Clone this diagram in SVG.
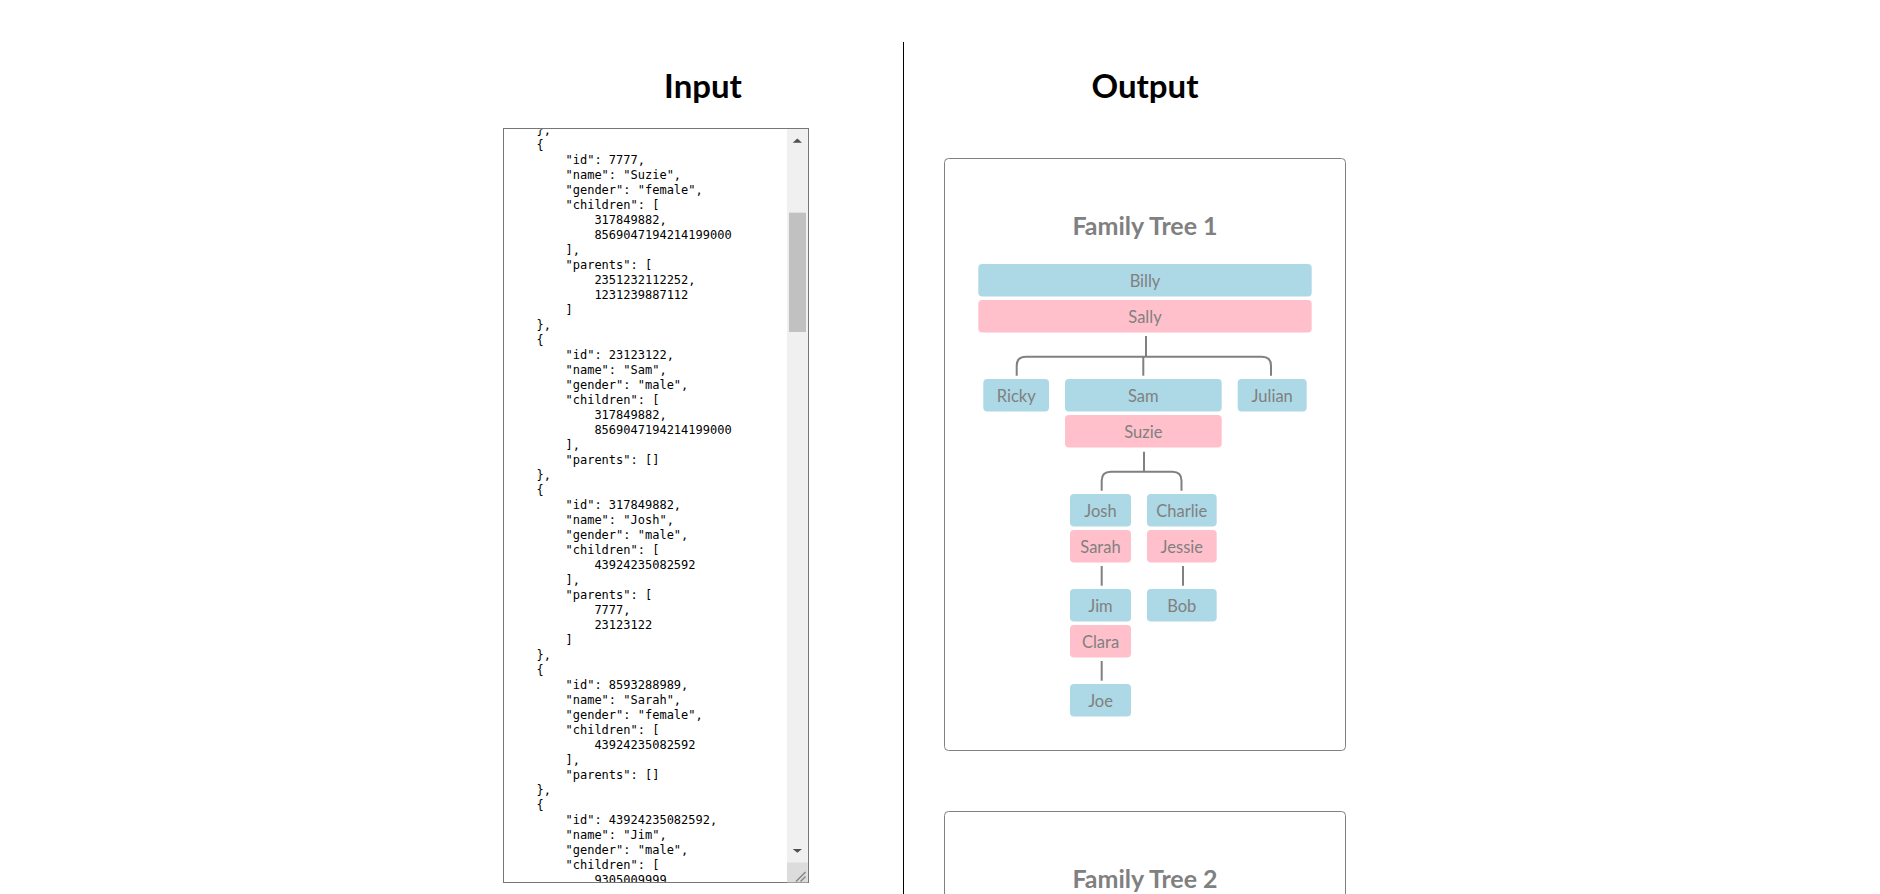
<svg xmlns="http://www.w3.org/2000/svg" width="1880" height="894" viewBox="0 0 1880 894">
<style>
.h{font-family:Lato,"Liberation Sans",sans-serif;font-weight:700;font-size:33px;fill:#000;text-anchor:middle}
.tt{font-family:Lato,"Liberation Sans",sans-serif;font-weight:700;font-size:25px;fill:#808080;text-anchor:middle}
.code{font-family:"DejaVu Sans Mono","Liberation Mono",monospace;font-size:12px;fill:#000}
.m{fill:#ADD8E6}
.f{fill:#FFC0CB}
.lb{font-family:Lato,"Liberation Sans",sans-serif;font-size:16.5px;fill:#808080;text-anchor:middle}
.cn{fill:none;stroke:#808080;stroke-width:2}
.panel{fill:#fff;stroke:#808080;stroke-width:1}
</style>
<defs>
<clipPath id="taClip"><rect x="504" y="129.5" width="283" height="752.5"/></clipPath>
</defs>
<rect width="1880" height="894" fill="#fff"/>

<g id="headings">
<text class="h" x="703" y="98.3">Input</text>
<text class="h" x="1145" y="98.3">Output</text>
</g>

<line id="divider" x1="903.5" y1="42" x2="903.5" y2="894" stroke="#000" stroke-width="1"/>

<g id="textarea">
<rect x="503.5" y="128.5" width="305" height="754" fill="#fff" stroke="#767676" stroke-width="1"/>
<g class="code" clip-path="url(#taClip)">
<text x="536.6" y="133.8">},</text>
<text x="536.6" y="148.8">{</text>
<text x="565.5" y="163.8">"id": 7777,</text>
<text x="565.5" y="178.8">"name": "Suzie",</text>
<text x="565.5" y="193.8">"gender": "female",</text>
<text x="565.5" y="208.8">"children": [</text>
<text x="594.4" y="223.8">317849882,</text>
<text x="594.4" y="238.8">8569047194214199000</text>
<text x="565.5" y="253.8">],</text>
<text x="565.5" y="268.8">"parents": [</text>
<text x="594.4" y="283.8">2351232112252,</text>
<text x="594.4" y="298.8">1231239887112</text>
<text x="565.5" y="313.8">]</text>
<text x="536.6" y="328.8">},</text>
<text x="536.6" y="343.8">{</text>
<text x="565.5" y="358.8">"id": 23123122,</text>
<text x="565.5" y="373.8">"name": "Sam",</text>
<text x="565.5" y="388.8">"gender": "male",</text>
<text x="565.5" y="403.8">"children": [</text>
<text x="594.4" y="418.8">317849882,</text>
<text x="594.4" y="433.8">8569047194214199000</text>
<text x="565.5" y="448.8">],</text>
<text x="565.5" y="463.8">"parents": []</text>
<text x="536.6" y="478.8">},</text>
<text x="536.6" y="493.8">{</text>
<text x="565.5" y="508.8">"id": 317849882,</text>
<text x="565.5" y="523.8">"name": "Josh",</text>
<text x="565.5" y="538.8">"gender": "male",</text>
<text x="565.5" y="553.8">"children": [</text>
<text x="594.4" y="568.8">43924235082592</text>
<text x="565.5" y="583.8">],</text>
<text x="565.5" y="598.8">"parents": [</text>
<text x="594.4" y="613.8">7777,</text>
<text x="594.4" y="628.8">23123122</text>
<text x="565.5" y="643.8">]</text>
<text x="536.6" y="658.8">},</text>
<text x="536.6" y="673.8">{</text>
<text x="565.5" y="688.8">"id": 8593288989,</text>
<text x="565.5" y="703.8">"name": "Sarah",</text>
<text x="565.5" y="718.8">"gender": "female",</text>
<text x="565.5" y="733.8">"children": [</text>
<text x="594.4" y="748.8">43924235082592</text>
<text x="565.5" y="763.8">],</text>
<text x="565.5" y="778.8">"parents": []</text>
<text x="536.6" y="793.8">},</text>
<text x="536.6" y="808.8">{</text>
<text x="565.5" y="823.8">"id": 43924235082592,</text>
<text x="565.5" y="838.8">"name": "Jim",</text>
<text x="565.5" y="853.8">"gender": "male",</text>
<text x="565.5" y="868.8">"children": [</text>
<text x="594.4" y="883.8">9305009999</text>
</g>
<g id="scrollbar">
<rect x="787" y="129" width="20.8" height="753.2" fill="#F0F0F0"/>
<rect x="789" y="212.7" width="17" height="119.3" fill="#C1C1C1"/>
<polygon points="792.7,142.7 802,142.7 797.35,138.6" fill="#505050"/>
<polygon points="792.7,849 802,849 797.35,852.8" fill="#505050"/>
<rect x="787" y="862.5" width="20.8" height="19.7" fill="#DCDCDC"/>
<line x1="796" y1="881.5" x2="805.5" y2="872" stroke="#808080" stroke-width="1.2"/>
<line x1="800.5" y1="881.5" x2="805.5" y2="876.5" stroke="#808080" stroke-width="1.2"/>
</g>
</g>

<g id="panel1">
<rect class="panel" x="944.5" y="158.5" width="401" height="592" rx="4"/>
<text class="tt" x="1145" y="235">Family Tree 1</text>
</g>

<g id="panel2">
<rect class="panel" x="944.5" y="811.5" width="401" height="200" rx="4"/>
<text class="tt" x="1145" y="887.7">Family Tree 2</text>
</g>

<g id="connectors">
<path class="cn" d="M1146,336 V356.7"/>
<path class="cn" d="M1016.7,375.7 V365.7 Q1016.7,356.7 1025.7,356.7 H1262 Q1271,356.7 1271,365.7 V375.7"/>
<path class="cn" d="M1143.3,356.7 V375.7"/>
<path class="cn" d="M1144,451.7 V471.7"/>
<path class="cn" d="M1101.7,490.7 V480.7 Q1101.7,471.7 1110.7,471.7 H1172.5 Q1181.5,471.7 1181.5,480.7 V490.7"/>
<path class="cn" d="M1101.7,566 V585.7"/>
<path class="cn" d="M1183,566 V585.7"/>
<path class="cn" d="M1101.7,661 V680.7"/>
</g>

<g id="node-billy"><rect class="m" x="978.3" y="264" width="333.4" height="32.6" rx="4"/><text class="lb" x="1145" y="287">Billy</text></g>
<g id="node-sally"><rect class="f" x="978.3" y="300" width="333.4" height="32.6" rx="4"/><text class="lb" x="1145" y="323">Sally</text></g>
<g id="node-ricky"><rect class="m" x="983.3" y="379" width="65.7" height="32.6" rx="4"/><text class="lb" x="1016.2" y="402">Ricky</text></g>
<g id="node-sam"><rect class="m" x="1065" y="379" width="156.7" height="32.6" rx="4"/><text class="lb" x="1143.3" y="402">Sam</text></g>
<g id="node-julian"><rect class="m" x="1237.7" y="379" width="69" height="32.6" rx="4"/><text class="lb" x="1272.2" y="402">Julian</text></g>
<g id="node-suzie"><rect class="f" x="1065" y="415" width="156.7" height="32.6" rx="4"/><text class="lb" x="1143.3" y="438">Suzie</text></g>
<g id="node-josh"><rect class="m" x="1070" y="494" width="61" height="32.6" rx="4"/><text class="lb" x="1100.5" y="517">Josh</text></g>
<g id="node-charlie"><rect class="m" x="1147" y="494" width="69.7" height="32.6" rx="4"/><text class="lb" x="1181.8" y="517">Charlie</text></g>
<g id="node-sarah"><rect class="f" x="1070" y="530" width="61" height="32.6" rx="4"/><text class="lb" x="1100.5" y="553">Sarah</text></g>
<g id="node-jessie"><rect class="f" x="1147" y="530" width="69.7" height="32.6" rx="4"/><text class="lb" x="1181.8" y="553">Jessie</text></g>
<g id="node-jim"><rect class="m" x="1070" y="589" width="61" height="32.6" rx="4"/><text class="lb" x="1100.5" y="612">Jim</text></g>
<g id="node-bob"><rect class="m" x="1147" y="589" width="69.7" height="32.6" rx="4"/><text class="lb" x="1181.8" y="612">Bob</text></g>
<g id="node-clara"><rect class="f" x="1070" y="625" width="61" height="32.6" rx="4"/><text class="lb" x="1100.5" y="648">Clara</text></g>
<g id="node-joe"><rect class="m" x="1070" y="684" width="61" height="32.6" rx="4"/><text class="lb" x="1100.5" y="707">Joe</text></g>
</svg>
